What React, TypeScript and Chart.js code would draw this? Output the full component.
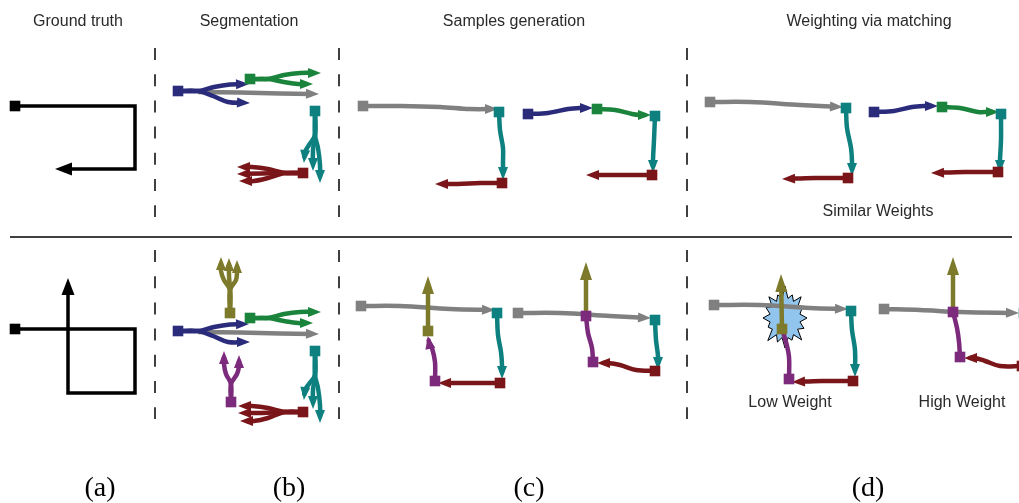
import React, { useEffect, useRef } from 'react';
import { Chart, registerables } from 'chart.js';
Chart.register(...registerables);

type P = [number, number];

// ---------- colours ----------
const NAVY = '#2b2b7b';
const GREEN = '#1a843c';
const GRAY = '#808080';
const TEAL = '#0e8080';
const MAROON = '#7a1519';
const OLIVE = '#7d7a2c';
const PURPLE = '#7c2a7c';
const BLACK = '#000000';

// ---------- (a) ground truth ----------
const gtTop: P[] = [[15, 106], [135, 106], [135, 169], [56, 169]];
const gtBottom: P[] = [[15, 329], [135, 329], [135, 393], [68, 393], [68, 279]];

// ---------- (b) segmentation, top ----------
const sTN1: P[] = [[178, 91], [198, 91], [214, 87], [230, 84.5], [248, 84]];
const sTN2: P[] = [[178, 91], [198, 91], [213, 96], [228, 102], [249, 103]];
const sTG: P[] = [[198, 92], [240, 92.5], [280, 93.5], [318, 94]];
const sTGr1: P[] = [[250, 79], [268, 79], [284, 75], [300, 73], [320, 73]];
const sTGr2: P[] = [[250, 79], [268, 79], [284, 82], [298, 84], [312, 84]];
const sTT1: P[] = [[315, 111], [315, 135], [309, 145], [305, 152], [304, 162]];
const sTT2: P[] = [[315, 111], [315, 135], [313, 150], [313, 170]];
const sTT3: P[] = [[315, 111], [315, 135], [318, 148], [320, 165], [320, 182]];
const sTM1: P[] = [[303, 173], [285, 173], [268, 169], [252, 167], [238, 167]];
const sTM2: P[] = [[303, 173], [285, 173], [262, 173.5], [238, 174]];
const sTM3: P[] = [[303, 173], [285, 173], [268, 178], [254, 181], [240, 181]];

// ---------- (b) segmentation, bottom ----------
const sBN1: P[] = [[178, 331], [198, 331], [214, 327], [230, 324.5], [248, 324]];
const sBN2: P[] = [[178, 331], [198, 331], [213, 336], [228, 342], [249, 342]];
const sBG: P[] = [[198, 332], [240, 332.5], [280, 333.5], [318, 334]];
const sBGr1: P[] = [[250, 318], [268, 318], [284, 314], [300, 312], [320, 312]];
const sBGr2: P[] = [[250, 318], [268, 318], [284, 321], [298, 323], [312, 323]];
const sBT1: P[] = [[315, 351], [315, 375], [309, 384], [305, 390], [304, 399]];
const sBT2: P[] = [[315, 351], [315, 375], [313, 390], [313, 408]];
const sBT3: P[] = [[315, 351], [315, 375], [318, 388], [320, 405], [320, 422]];
const sBM1: P[] = [[303, 412], [285, 412], [268, 408], [252, 406], [239, 406]];
const sBM2: P[] = [[303, 412], [285, 412], [262, 413], [239, 413]];
const sBM3: P[] = [[303, 412], [285, 412], [268, 418], [254, 421], [241, 421]];
const sBO1: P[] = [[230, 313], [230, 290], [224, 280], [221, 271], [221, 258]];
const sBO2: P[] = [[230, 313], [230, 290], [229, 275], [229, 259]];
const sBO3: P[] = [[230, 313], [230, 290], [236, 280], [237, 272], [237, 261]];
const sBP1: P[] = [[231, 402], [231, 384], [226, 374], [224, 364], [224, 352]];
const sBP2: P[] = [[231, 402], [231, 384], [237, 374], [239, 366], [239, 356]];

// ---------- (c) samples generation, top ----------
const cTGray: P[] = [[363, 106], [400, 106], [440, 107], [470, 109], [497, 109]];
const cTTeal: P[] = [[499, 112], [500, 130], [503, 148], [503, 162], [503, 179]];
const cTMar: P[] = [[502, 183], [480, 183], [458, 184], [436, 184]];
const cTNavy: P[] = [[528, 114], [548, 113], [568, 109], [580, 108], [592, 108]];
const cTGreen: P[] = [[597, 109], [615, 110], [632, 114], [640, 115], [650, 115]];
const cTTeal2: P[] = [[655, 116], [654, 140], [653, 160], [653, 172]];
const cTMar2: P[] = [[652, 175], [620, 175], [587, 175]];

// ---------- (d) weighting, top ----------
const dTGray: P[] = [[710, 102], [750, 102], [800, 105], [842, 107]];
const dTTeal: P[] = [[846, 108], [847, 128], [851, 148], [852, 162], [852, 175]];
const dTMar: P[] = [[848, 178], [815, 178], [783, 179]];
const dTNavy: P[] = [[874, 112], [894, 111], [912, 107], [925, 106], [937, 106]];
const dTGreen: P[] = [[942, 107], [960, 108], [978, 112], [988, 112], [998, 112]];
const dTTeal2: P[] = [[1001, 114], [1001, 140], [1000, 160], [1000, 172]];
const dTMar2: P[] = [[998, 172], [965, 172], [932, 173]];

// ---------- (c) samples generation, bottom ----------
const cBGray: P[] = [[361, 306], [400, 306], [450, 309], [494, 310]];
const cBTeal: P[] = [[497, 313], [498, 335], [501, 352], [502, 365], [502, 378]];
const cBMar: P[] = [[500, 383], [470, 383], [439, 383]];
const cBPurple: P[] = [[435, 381], [435, 362], [432, 348], [429, 342], [428, 337]];
const cBOlive: P[] = [[428, 331], [428, 300], [428, 277]];
const cBGray2: P[] = [[518, 313], [560, 313], [610, 316], [650, 318]];
const cBTeal2: P[] = [[655, 320], [656, 340], [658, 356], [658, 369]];
const cBMar2: P[] = [[655, 371], [636, 370], [620, 365], [608, 363], [598, 363]];
const cBPurple2: P[] = [[586, 316], [588, 333], [592, 348], [593, 362]];
const cBOlive2: P[] = [[586, 316], [586, 263]];

// ---------- (d) weighting, bottom ----------
const dBGray: P[] = [[714, 305], [760, 305], [810, 308], [847, 309]];
const dBTeal: P[] = [[851, 311], [852, 330], [855, 350], [855, 376]];
const dBMar: P[] = [[853, 381], [822, 381], [793, 382]];
const dBPurple: P[] = [[789, 379], [789, 357], [786, 342], [782, 329]];
const dBOlive: P[] = [[782, 329], [781, 275]];
const dBGray2: P[] = [[884, 309], [920, 310], [960, 312], [1018, 313]];
const dBOlive2: P[] = [[953, 311], [953, 258]];
const dBPurple2: P[] = [[953, 312], [957, 328], [959, 342], [960, 357]];
const dBMar2: P[] = [[1022, 366], [1000, 366], [985, 361], [975, 358], [965, 358]];

// ---------- square nodes ----------
const blackSquares: P[] = [[15, 106], [15, 329]];
const navySquares: P[] = [[178, 91], [178, 331], [528, 114], [874, 112]];
const greenSquares: P[] = [[250, 79], [250, 318], [597, 109], [942, 107]];
const graySquares: P[] = [[363, 106], [710, 102], [361, 306], [518, 313], [714, 305], [884, 309]];
const tealSquares: P[] = [[315, 111], [315, 351], [499, 112], [655, 116], [846, 108], [1001, 114], [497, 313], [655, 320], [851, 311], [1024, 313]];
const maroonSquares: P[] = [[303, 173], [303, 412], [502, 183], [652, 175], [848, 178], [998, 172], [500, 383], [655, 371], [853, 381], [1022, 366]];
const oliveSquares: P[] = [[230, 313], [428, 331], [782, 329]];
const purpleSquares: P[] = [[231, 402], [435, 381], [593, 362], [586, 316], [789, 379], [953, 312], [960, 357]];

// ---------- separators ----------
const separatorX = [155, 339, 687];
const separatorTop: P = [48, 217];
const separatorBottom: P = [250, 419];
const ruleLine: P[] = [[10, 237], [1012, 237]];

// ---------- star ----------
const starCenter: P = [785, 318];
const starSpikes = [32, 25, 30, 24, 29, 27, 31, 24, 30, 26, 32, 24, 29, 27, 30, 25];

// ---------- texts ----------
const columnTitles = ['Ground truth', 'Segmentation', 'Samples generation', 'Weighting via matching'];
const columnTitleX = [78, 249, 514, 869];
const panelLetters = ['(a)', '(b)', '(c)', '(d)'];
const panelLetterX = [100, 289, 529, 868];
const notes = ['Similar Weights', 'Low Weight', 'High Weight'];
const noteX = [878, 790, 962];
const noteY = [212, 403, 403];

type Kind = 'gt' | 'arrow' | 'big' | 'none';

const paths: [P[], string, Kind][] = [
  [gtTop, BLACK, 'gt'], [gtBottom, BLACK, 'gt'],
  [sTN1, NAVY, 'arrow'], [sTN2, NAVY, 'arrow'], [sTG, GRAY, 'arrow'],
  [sTGr1, GREEN, 'arrow'], [sTGr2, GREEN, 'arrow'],
  [sTT1, TEAL, 'arrow'], [sTT2, TEAL, 'arrow'], [sTT3, TEAL, 'arrow'],
  [sTM1, MAROON, 'arrow'], [sTM2, MAROON, 'arrow'], [sTM3, MAROON, 'arrow'],
  [sBN1, NAVY, 'arrow'], [sBN2, NAVY, 'arrow'], [sBG, GRAY, 'arrow'],
  [sBGr1, GREEN, 'arrow'], [sBGr2, GREEN, 'arrow'],
  [sBT1, TEAL, 'arrow'], [sBT2, TEAL, 'arrow'], [sBT3, TEAL, 'arrow'],
  [sBM1, MAROON, 'arrow'], [sBM2, MAROON, 'arrow'], [sBM3, MAROON, 'arrow'],
  [sBO1, OLIVE, 'arrow'], [sBO2, OLIVE, 'arrow'], [sBO3, OLIVE, 'arrow'],
  [sBP1, PURPLE, 'arrow'], [sBP2, PURPLE, 'arrow'],
  [cTGray, GRAY, 'arrow'], [cTTeal, TEAL, 'arrow'], [cTMar, MAROON, 'arrow'],
  [cTNavy, NAVY, 'arrow'], [cTGreen, GREEN, 'arrow'], [cTTeal2, TEAL, 'arrow'], [cTMar2, MAROON, 'arrow'],
  [dTGray, GRAY, 'arrow'], [dTTeal, TEAL, 'arrow'], [dTMar, MAROON, 'arrow'],
  [dTNavy, NAVY, 'arrow'], [dTGreen, GREEN, 'arrow'], [dTTeal2, TEAL, 'arrow'], [dTMar2, MAROON, 'arrow'],
  [cBOlive, OLIVE, 'big'], [cBPurple, PURPLE, 'arrow'], [cBGray, GRAY, 'arrow'], [cBTeal, TEAL, 'arrow'], [cBMar, MAROON, 'arrow'],
  [cBOlive2, OLIVE, 'big'], [cBPurple2, PURPLE, 'none'], [cBGray2, GRAY, 'arrow'], [cBTeal2, TEAL, 'arrow'], [cBMar2, MAROON, 'arrow'],
  [dBOlive, OLIVE, 'big'], [dBPurple, PURPLE, 'none'], [dBGray, GRAY, 'arrow'], [dBTeal, TEAL, 'arrow'], [dBMar, MAROON, 'arrow'],
  [dBOlive2, OLIVE, 'big'], [dBPurple2, PURPLE, 'none'], [dBGray2, GRAY, 'arrow'], [dBMar2, MAROON, 'arrow'],
];

const squareGroups: [P[], string][] = [
  [blackSquares, BLACK], [navySquares, NAVY], [greenSquares, GREEN], [graySquares, GRAY],
  [tealSquares, TEAL], [maroonSquares, MAROON], [oliveSquares, OLIVE], [purpleSquares, PURPLE],
];

const arrowSize: Record<Kind, [number, number]> = { gt: [17, 13], arrow: [13, 10], big: [18, 12], none: [0, 0] };

const toXY = (pts: P[]) => pts.map(([x, y]) => ({ x, y }));

function buildDatasets(): any[] {
  const ds: any[] = [];
  const sqData: { x: number; y: number }[] = [];
  const sqColors: string[] = [];
  squareGroups.forEach(([pts, c]) => pts.forEach(([x, y]) => { sqData.push({ x, y }); sqColors.push(c); }));
  ds.push({
    data: sqData, showLine: false, pointStyle: 'rect', pointRadius: 7.5, pointHoverRadius: 7.5,
    pointBackgroundColor: sqColors, pointBorderWidth: 0, order: 0,
  });
  paths.forEach(([pts, color, kind]) => {
    const gt = kind === 'gt';
    ds.push({
      data: toXY(pts), showLine: true, borderColor: color, backgroundColor: color,
      borderWidth: gt ? 3.5 : 4.5, tension: gt ? 0 : 0.35,
      borderJoinStyle: gt ? 'miter' : 'round', borderCapStyle: 'butt', pointRadius: 0, fill: false,
      order: 1, arrowKind: kind,
    });
  });
  separatorX.forEach((x) => {
    [separatorTop, separatorBottom].forEach(([y0, y1]) => {
      ds.push({
        data: [{ x, y: y0 }, { x, y: y1 }], showLine: true, borderColor: '#111', borderWidth: 1.6,
        borderDash: [12, 14.2], pointRadius: 0, tension: 0, order: 3,
      });
    });
  });
  ds.push({
    data: toXY(ruleLine), showLine: true, borderColor: '#000', borderWidth: 1.6, pointRadius: 0, tension: 0, order: 3,
  });
  return ds;
}

const arrowPlugin = {
  id: 'arrowHeads',
  beforeDatasetDraw(chart: any, args: any) {
    const ds = chart.data.datasets[args.index];
    if (!ds.arrowKind || ds.arrowKind === 'none') return;
    const pts = args.meta.data;
    const n = pts.length;
    if (n < 2) return;
    const last = pts[n - 1], prev = pts[n - 2];
    const dx = last.x - prev.x, dy = last.y - prev.y;
    const d = Math.hypot(dx, dy) || 1;
    const ux = dx / d, uy = dy / d;
    const [len] = arrowSize[ds.arrowKind as Kind];
    ds._tip = { x: last.x, y: last.y, ux, uy };
    last.x = last.x - ux * len * 0.5;
    last.y = last.y - uy * len * 0.5;
  },
  afterDatasetDraw(chart: any, args: any) {
    const ds = chart.data.datasets[args.index];
    if (!ds._tip) return;
    const pts = args.meta.data;
    const last = pts[pts.length - 1];
    const { x, y, ux, uy } = ds._tip;
    last.x = x; last.y = y;
    const [len, w] = arrowSize[ds.arrowKind as Kind];
    const ctx = chart.ctx;
    const tx = x + ux, ty = y + uy;
    const bx = tx - ux * len, by = ty - uy * len;
    ctx.save();
    ctx.beginPath();
    ctx.moveTo(tx, ty);
    ctx.lineTo(bx - uy * w / 2, by + ux * w / 2);
    ctx.lineTo(bx + uy * w / 2, by - ux * w / 2);
    ctx.closePath();
    ctx.fillStyle = ds.borderColor;
    ctx.fill();
    ctx.restore();
    ds._tip = null;
  },
};

const starPlugin = {
  id: 'star',
  beforeDatasetsDraw(chart: any) {
    const ctx = chart.ctx;
    const cx = chart.scales.x.getPixelForValue(starCenter[0]);
    const cy = chart.scales.y.getPixelForValue(starCenter[1]);
    const n = starSpikes.length;
    ctx.save();
    ctx.beginPath();
    for (let i = 0; i < n; i++) {
      const a0 = (i / n) * Math.PI * 2 - Math.PI / 2;
      const a1 = ((i + 0.5) / n) * Math.PI * 2 - Math.PI / 2;
      const ro = starSpikes[i];
      const ri = 20;
      const px = cx + Math.cos(a0) * ro * 0.76, py = cy + Math.sin(a0) * ro;
      const qx = cx + Math.cos(a1) * ri * 0.76, qy = cy + Math.sin(a1) * ri;
      if (i === 0) ctx.moveTo(px, py); else ctx.lineTo(px, py);
      ctx.lineTo(qx, qy);
    }
    ctx.closePath();
    ctx.fillStyle = '#92c5ee';
    ctx.fill();
    ctx.strokeStyle = '#000';
    ctx.lineWidth = 1;
    ctx.lineJoin = 'miter';
    ctx.stroke();
    ctx.restore();
  },
};

const textPlugin = {
  id: 'texts',
  afterDraw(chart: any) {
    const ctx = chart.ctx;
    const sx = (v: number) => chart.scales.x.getPixelForValue(v);
    const sy = (v: number) => chart.scales.y.getPixelForValue(v);
    ctx.save();
    ctx.textAlign = 'center';
    ctx.textBaseline = 'middle';
    ctx.fillStyle = '#2a2a2a';
    ctx.font = '16px "Liberation Sans", Arial, Helvetica, sans-serif';
    columnTitles.forEach((t, i) => ctx.fillText(t, sx(columnTitleX[i]), sy(22)));
    notes.forEach((t, i) => ctx.fillText(t, sx(noteX[i]), sy(noteY[i])));
    ctx.fillStyle = '#000';
    ctx.font = '28px "Liberation Serif", "Times New Roman", serif';
    panelLetters.forEach((t, i) => ctx.fillText(t, sx(panelLetterX[i]), sy(489)));
    ctx.restore();
  },
};

export default function App() {
  const ref = useRef<HTMLCanvasElement>(null);
  useEffect(() => {
    if (!ref.current) return;
    const chart = new Chart(ref.current, {
      type: 'scatter',
      data: { datasets: buildDatasets() },
      options: {
        animation: false,
        responsive: false,
        events: [],
        layout: { padding: 0, autoPadding: false } as any,
        plugins: { legend: { display: false }, tooltip: { enabled: false } },
        scales: {
          x: { type: 'linear', min: 0, max: 1019, display: false },
          y: { type: 'linear', min: 0, max: 503, reverse: true, display: false },
        },
      },
      plugins: [arrowPlugin, starPlugin, textPlugin],
    } as any);
    return () => chart.destroy();
  }, []);
  return (
    <div style={{ position: 'fixed', left: 0, top: 0, width: 1019, height: 503, background: '#fff' }}>
      <canvas ref={ref} width={1019} height={503} style={{ display: 'block', width: 1019, height: 503 }} />
    </div>
  );
}
